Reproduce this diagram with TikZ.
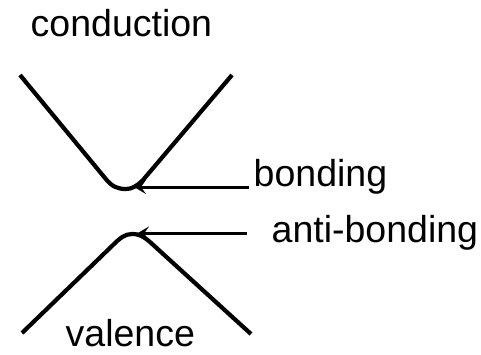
\documentclass[tikz,border=0pt]{standalone}
\usepackage{fontspec}
\setmainfont{Liberation Sans}
\usetikzlibrary{arrows.meta}

\begin{document}
\begin{tikzpicture}[x=1pt,y=-1pt,>={Stealth[length=12pt,width=14pt,inset=5pt]},
                    band/.style={line width=4.2pt,line join=round},
                    pointer/.style={->,line width=3pt},
                    level label/.style={anchor=base west,inner sep=0pt,
                                        font=\fontsize{37.5}{40}\selectfont}]
  \useasboundingbox (0,0) rectangle (481,354);
  % labels
  \node[level label] (cond)  at (30.5,36.7)  {conduction};
  \node[level label] (bond)  at (253.5,186.7) {bonding};
  \node[level label] (anti)  at (271.5,242) {anti-bonding};
  \node[level label] (val)   at (65.5,346.5) {valence};
  % bands
  \draw[band] (20,75) -- (105,178) .. controls (112,187) and (118,189) .. (126,189)
              .. controls (132,189) and (137,186) .. (143,180) -- (232,75);
  \draw[band] (22,333) -- (113,245) .. controls (120,238) and (125,234) .. (132,234)
              .. controls (140,234) and (144,237) .. (150,242) -- (251,334);
  % arrows
  \coordinate (bond tail) at (249,187);
  \coordinate (bond tip)  at (134,187);
  \coordinate (anti tail) at (247,233.5);
  \coordinate (anti tip)  at (137,233.5);
  \draw[pointer] (bond tail) -- (bond tip);
  \draw[pointer] (anti tail) -- (anti tip);
\end{tikzpicture}
\end{document}
